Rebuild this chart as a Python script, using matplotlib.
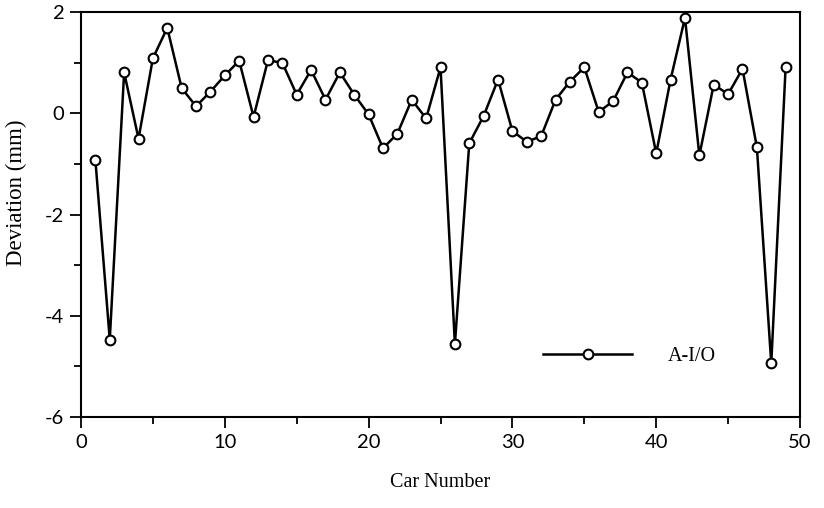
import matplotlib
matplotlib.use("Agg")
import matplotlib.pyplot as plt
from matplotlib.ticker import MultipleLocator

plt.rcParams["axes.unicode_minus"] = False

car_number = list(range(1, 50))
deviation = [-0.92, -4.47, 0.81, -0.50, 1.09, 1.69, 0.50, 0.14, 0.43, 0.75,
             1.04, -0.07, 1.05, 1.00, 0.37, 0.86, 0.27, 0.81, 0.37, -0.02,
             -0.69, -0.40, 0.27, -0.10, 0.91, -4.56, -0.59, -0.05, 0.67, -0.35,
             -0.56, -0.45, 0.27, 0.63, 0.91, 0.03, 0.24, 0.81, 0.61, -0.79,
             0.67, 1.89, -0.83, 0.57, 0.38, 0.88, -0.67, -4.94, 0.92]
series_label = "A-I/O"
x_ticks = [0, 10, 20, 30, 40, 50]
y_ticks = [-6, -4, -2, 0, 2]

fig = plt.figure(figsize=(8.24, 5.08), dpi=100)
ax = fig.add_axes([0.0983, 0.179, 0.8726, 0.797])

ax.plot(car_number, deviation, color="black", linewidth=1.8, marker="o",
        markersize=7, markerfacecolor="white", markeredgecolor="black",
        markeredgewidth=1.5, label=series_label, zorder=3)

ax.set_xlim(0, 50)
ax.set_ylim(-6, 2)
ax.set_xticks(x_ticks)
ax.set_yticks(y_ticks)
ax.xaxis.set_minor_locator(MultipleLocator(5))
ax.yaxis.set_minor_locator(MultipleLocator(1))
ax.tick_params(which="major", direction="out", length=8, width=1.3,
               labelsize=14.5, pad=4, top=False, right=False)
ax.tick_params(which="minor", direction="out", length=5, width=1.3,
               top=False, right=False)
for lab in ax.get_xticklabels() + ax.get_yticklabels():
    lab.set_fontfamily("Lato")

for sp in ax.spines.values():
    sp.set_linewidth(1.5)
    sp.set_color("black")

ax.set_xlabel("Car Number", family="Liberation Serif", fontsize=14.5, labelpad=16)
ax.set_ylabel("Deviation (mm)", family="Liberation Serif", fontsize=16.5)
ax.yaxis.set_label_coords(-0.075, 0.555)

leg = ax.legend(loc="center left", bbox_to_anchor=(0.643, 0.15), frameon=False,
                borderpad=0, borderaxespad=0, handlelength=4.4,
                handletextpad=1.8, prop={"family": "Liberation Serif", "size": 14.5})

fig.savefig("out.png", dpi=100)
